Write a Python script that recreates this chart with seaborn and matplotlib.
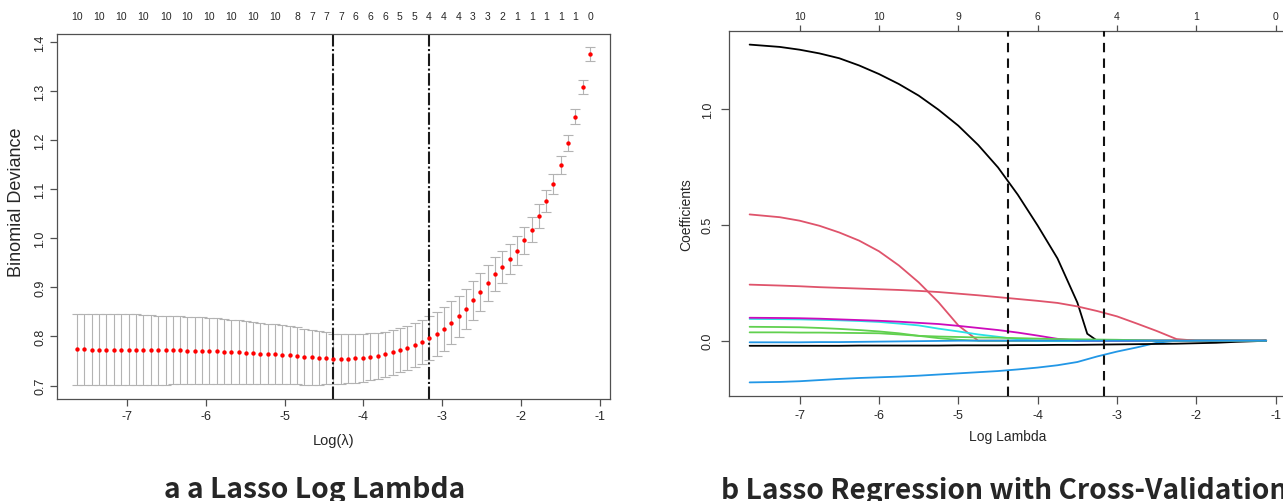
import numpy as np
import pandas as pd
import matplotlib
matplotlib.use("Agg")
import matplotlib.pyplot as plt
import seaborn as sns

# ---------------- data ----------------
log_lambda = [-7.63, -7.54, -7.44, -7.35, -7.26, -7.17, -7.07, -6.98, -6.89, -6.79,
              -6.70, -6.61, -6.51, -6.42, -6.33, -6.24, -6.14, -6.05, -5.96, -5.86,
              -5.77, -5.68, -5.58, -5.49, -5.40, -5.31, -5.21, -5.12, -5.03, -4.93,
              -4.84, -4.75, -4.65, -4.56, -4.47, -4.38, -4.28, -4.19, -4.10, -4.00,
              -3.91, -3.82, -3.72, -3.63, -3.54, -3.45, -3.35, -3.26, -3.17, -3.07,
              -2.98, -2.89, -2.79, -2.70, -2.61, -2.52, -2.42, -2.33, -2.24, -2.14,
              -2.05, -1.96, -1.86, -1.77, -1.68, -1.59, -1.49, -1.40, -1.31, -1.21,
              -1.12]

cv_mean = [0.774, 0.774, 0.773, 0.773, 0.773, 0.773, 0.773, 0.773, 0.773, 0.773,
           0.772, 0.772, 0.772, 0.772, 0.772, 0.771, 0.771, 0.771, 0.770, 0.770,
           0.769, 0.769, 0.768, 0.767, 0.766, 0.765, 0.764, 0.764, 0.763, 0.762,
           0.761, 0.759, 0.758, 0.757, 0.756, 0.754, 0.755, 0.755, 0.756, 0.757,
           0.759, 0.761, 0.764, 0.768, 0.772, 0.777, 0.783, 0.789, 0.797, 0.805,
           0.816, 0.828, 0.841, 0.856, 0.874, 0.891, 0.909, 0.927, 0.942, 0.958,
           0.975, 0.996, 1.018, 1.045, 1.076, 1.111, 1.149, 1.195, 1.248, 1.308,
           1.376]

cv_sd = [0.0725, 0.0725, 0.0725, 0.0725, 0.0725, 0.0725, 0.0725, 0.0725, 0.072, 0.0715,
         0.071, 0.0705, 0.070, 0.0695, 0.069, 0.0688, 0.0685, 0.068, 0.0675, 0.067,
         0.066, 0.0655, 0.065, 0.0645, 0.0635, 0.0625, 0.0615, 0.0605, 0.060, 0.059,
         0.058, 0.057, 0.056, 0.055, 0.0535, 0.0515, 0.051, 0.0505, 0.050, 0.049,
         0.048, 0.047, 0.046, 0.0455, 0.045, 0.045, 0.045, 0.045, 0.045, 0.045,
         0.045, 0.0435, 0.042, 0.041, 0.040, 0.0385, 0.037, 0.035, 0.033, 0.031,
         0.029, 0.0275, 0.026, 0.024, 0.022, 0.020, 0.018, 0.0165, 0.015, 0.0145,
         0.014]

nzero = [10, 10, 10, 10, 10, 10, 10, 10, 10, 10,
         10, 10, 10, 10, 10, 10, 10, 10, 10, 10,
         10, 10, 10, 10, 10, 10, 10, 10, 9, 9,
         8, 8, 7, 7, 7, 7, 7, 7, 6, 6,
         6, 6, 6, 6, 5, 5, 5, 5, 4, 4,
         4, 4, 4, 4, 3, 3, 3, 3, 2, 2,
         1, 1, 1, 1, 1, 1, 1, 1, 1, 1,
         0]

lambda_min_idx = 35
lambda_1se_idx = 48

# coefficient paths (glmnet fit) on a log-lambda grid
path_log_lambda = [-7.63, -7.25, -7.0, -6.75, -6.5, -6.25, -6.0, -5.75, -5.5, -5.25,
                   -5.0, -4.75, -4.5, -4.25, -4.0, -3.75, -3.5, -3.375, -3.25, -3.0,
                   -2.75, -2.5, -2.25, -2.0, -1.75, -1.5, -1.25, -1.12]
coef_v1 = [1.278, 1.268, 1.256, 1.240, 1.219, 1.188, 1.151, 1.108, 1.058, 0.997,
           0.928, 0.845, 0.748, 0.630, 0.497, 0.355, 0.165, 0.030, 0, 0,
           0, 0, 0, 0, 0, 0, 0, 0]
coef_v2 = [0.545, 0.533, 0.518, 0.496, 0.467, 0.432, 0.386, 0.325, 0.252, 0.166,
           0.066, 0, 0, 0, 0, 0, 0, 0, 0, 0,
           0, 0, 0, 0, 0, 0, 0, 0]
coef_v3 = [0.060, 0.059, 0.058, 0.055, 0.051, 0.046, 0.040, 0.032, 0.021, 0.011,
           0.004, 0, 0, 0, 0, 0, 0, 0, 0, 0,
           0, 0, 0, 0, 0, 0, 0, 0]
coef_v4 = [-0.180, -0.178, -0.175, -0.170, -0.165, -0.161, -0.158, -0.155, -0.151, -0.146,
           -0.141, -0.136, -0.131, -0.124, -0.116, -0.106, -0.092, -0.080, -0.068, -0.047,
           -0.029, -0.009, 0, 0, 0, 0, 0, 0]
coef_v5 = [0.094, 0.093, 0.092, 0.090, 0.088, 0.085, 0.081, 0.074, 0.066, 0.052,
           0.040, 0.027, 0.017, 0.006, 0, 0, 0, 0, 0, 0,
           0, 0, 0, 0, 0, 0, 0, 0]
coef_v6 = [0.099, 0.098, 0.097, 0.095, 0.092, 0.089, 0.086, 0.082, 0.077, 0.072,
           0.064, 0.055, 0.046, 0.035, 0.022, 0.008, 0, 0, 0, 0,
           0, 0, 0, 0, 0, 0, 0, 0]
coef_v7 = [-0.022, -0.022, -0.022, -0.022, -0.022, -0.021, -0.021, -0.021, -0.021, -0.021,
           -0.020, -0.020, -0.020, -0.019, -0.019, -0.018, -0.018, -0.0175, -0.017, -0.016,
           -0.015, -0.014, -0.013, -0.011, -0.009, -0.005, -0.002, 0]
coef_v8 = [0.242, 0.238, 0.235, 0.231, 0.228, 0.225, 0.222, 0.219, 0.215, 0.210,
           0.203, 0.196, 0.188, 0.180, 0.172, 0.163, 0.148, 0.138, 0.128, 0.105,
           0.074, 0.042, 0.007, 0, 0, 0, 0, 0]
coef_v9 = [0.036, 0.036, 0.035, 0.035, 0.034, 0.033, 0.032, 0.027, 0.021, 0.018,
           0.016, 0.014, 0.013, 0.011, 0.009, 0.007, 0.006, 0.0055, 0.005, 0.004,
           0.002, 0, 0, 0, 0, 0, 0, 0]
coef_v10 = [-0.007, -0.007, -0.007, -0.006, -0.006, -0.005, -0.004, -0.003, -0.002, -0.001,
            0, 0, 0, 0, 0, 0, 0, 0, 0, 0,
            0, 0, 0, 0, 0, 0, 0, 0]

var_names = ["V1", "V2", "V3", "V4", "V5", "V6", "V7", "V8", "V9", "V10"]
coef_paths = [coef_v1, coef_v2, coef_v3, coef_v4, coef_v5,
              coef_v6, coef_v7, coef_v8, coef_v9, coef_v10]
# R matplot default palette cycling (col = 1:6)
r_cols = ["#000000", "#DF536B", "#61D04F", "#2297E6", "#28E2E5", "#CD0BBC"]
line_colors = [r_cols[i % 6] for i in range(10)]

caption_a = "a a Lasso Log Lambda"
caption_b = "b Lasso Regression with Cross-Validation"

# ---------------- style ----------------
sns.set_style("white")
plt.rcParams["font.family"] = ["Liberation Sans", "DejaVu Sans"]
plt.rcParams["axes.unicode_minus"] = False

W, H = 1283, 502
fig = plt.figure(figsize=(W / 100, H / 100), dpi=100)

# pixel boxes of the two plot regions
L = dict(x0=56.8, x1=610.0, y0=34.7, y1=400.3)
R = dict(x0=729.0, x1=1286.0, y0=31.7, y1=397.3)
ax1 = fig.add_axes([L["x0"] / W, 1 - L["y1"] / H, (L["x1"] - L["x0"]) / W, (L["y1"] - L["y0"]) / H])
ax2 = fig.add_axes([R["x0"] / W, 1 - R["y1"] / H, (R["x1"] - R["x0"]) / W, (R["y1"] - R["y0"]) / H])

spine_col = "#505050"
for ax in (ax1, ax2):
    for s in ax.spines.values():
        s.set_color(spine_col)
        s.set_linewidth(0.9)
        s.set_visible(True)

# ---------------- panel a: CV deviance ----------------
df_cv = pd.DataFrame({"loglam": log_lambda, "cvm": cv_mean, "cvsd": cv_sd})
ax1.errorbar(df_cv["loglam"], df_cv["cvm"], yerr=df_cv["cvsd"], fmt="none",
             ecolor="#b3b3b3", elinewidth=0.8, capsize=3.3, capthick=0.8, zorder=1)
sns.scatterplot(data=df_cv, x="loglam", y="cvm", color="red", s=10, linewidth=0,
                ax=ax1, zorder=3)
for idx in (lambda_min_idx, lambda_1se_idx):
    ax1.axvline(log_lambda[idx], color="#1a1a1a", lw=1.5,
                linestyle=(0, (6, 1.2, 1, 1.2)), zorder=2)

ax1.set_xlim(-7.89, -0.87)
ax1.set_ylim(0.672, 1.417)
ax1.set_xticks([-7, -6, -5, -4, -3, -2, -1])
ax1.set_xticklabels(["-7", "-6", "-5", "-4", "-3", "-2", "-1"])
yt = [0.7, 0.8, 0.9, 1.0, 1.1, 1.2, 1.3, 1.4]
ax1.set_yticks(yt)
ax1.set_yticklabels([f"{v:.1f}" for v in yt])
ax1.tick_params(axis="both", direction="out", length=5, width=0.9, color=spine_col,
                labelsize=9, bottom=True, left=True)
ax1.tick_params(axis="x", pad=2.5)
ax1.tick_params(axis="y", pad=2.5)
for lbl in ax1.get_yticklabels():
    lbl.set_rotation(90)
    lbl.set_va("center")
ax1.set_xlabel("Log(λ)", fontsize=10.5, labelpad=8)
ax1.set_ylabel("Binomial Deviance", fontsize=13)
ax1.yaxis.set_label_coords(-0.058, 0.542)

top1 = ax1.twiny()
top1.set_xlim(ax1.get_xlim())
shown = list(range(0, 28, 3)) + list(range(30, 71, 2))
top1.set_xticks([log_lambda[i] for i in shown])
top1.set_xticklabels([str(nzero[i]) for i in shown], fontsize=7.5)
top1.tick_params(axis="x", length=0, pad=9)
for s in top1.spines.values():
    s.set_visible(False)

# ---------------- panel b: coefficient paths ----------------
rows = []
for name, vals in zip(var_names, coef_paths):
    for x, y in zip(path_log_lambda, vals):
        rows.append((name, x, y))
df_path = pd.DataFrame(rows, columns=["var", "loglam", "coef"])
sns.lineplot(data=df_path, x="loglam", y="coef", hue="var", hue_order=var_names,
             palette=dict(zip(var_names, line_colors)), estimator=None, sort=False,
             linewidth=1.3, legend=False, ax=ax2)
for idx in (lambda_min_idx, lambda_1se_idx):
    ax2.axvline(log_lambda[idx], color="#111111", lw=1.5, linestyle=(0, (4.5, 3)), zorder=5)

ax2.set_xlim(-7.89, -0.87)
ax2.set_ylim(-0.240, 1.338)
ax2.set_xticks([-7, -6, -5, -4, -3, -2, -1])
ax2.set_xticklabels(["-7", "-6", "-5", "-4", "-3", "-2", "-1"])
yt2 = [0.0, 0.5, 1.0]
ax2.set_yticks(yt2)
ax2.set_yticklabels([f"{v:.1f}" for v in yt2])
ax2.tick_params(axis="both", direction="out", length=6, width=0.9, color=spine_col,
                labelsize=9, bottom=True, left=True)
ax2.tick_params(axis="x", pad=3)
ax2.tick_params(axis="y", pad=5)
for lbl in ax2.get_yticklabels():
    lbl.set_rotation(90)
    lbl.set_va("center")
ax2.set_xlabel("Log Lambda", fontsize=10, labelpad=6)
ax2.set_ylabel("Coefficients", fontsize=10, labelpad=6)

top2 = ax2.twiny()
top2.set_xlim(ax2.get_xlim())
top_ticks = [-7, -6, -5, -4, -3, -2, -1]
ll = np.array(log_lambda)
top2.set_xticks(top_ticks)
top2.set_xticklabels([str(nzero[int(np.argmin(np.abs(ll - t)))]) for t in top_ticks], fontsize=7.5)
top2.tick_params(axis="x", direction="out", length=4, width=0.9, color=spine_col, pad=3)
for s in top2.spines.values():
    s.set_visible(False)

# ---------------- captions ----------------
cap_font = ["Noto Sans CJK SC", "DejaVu Sans"]
fig.text(164 / W, 1 - 498 / H, caption_a, family=cap_font, weight="bold",
         fontsize=20.3, ha="left", va="baseline")
fig.text(720.5 / W, 1 - 499 / H, caption_b, family=cap_font, weight="bold",
         fontsize=20.3, ha="left", va="baseline")

fig.savefig("out.png", dpi=100)
